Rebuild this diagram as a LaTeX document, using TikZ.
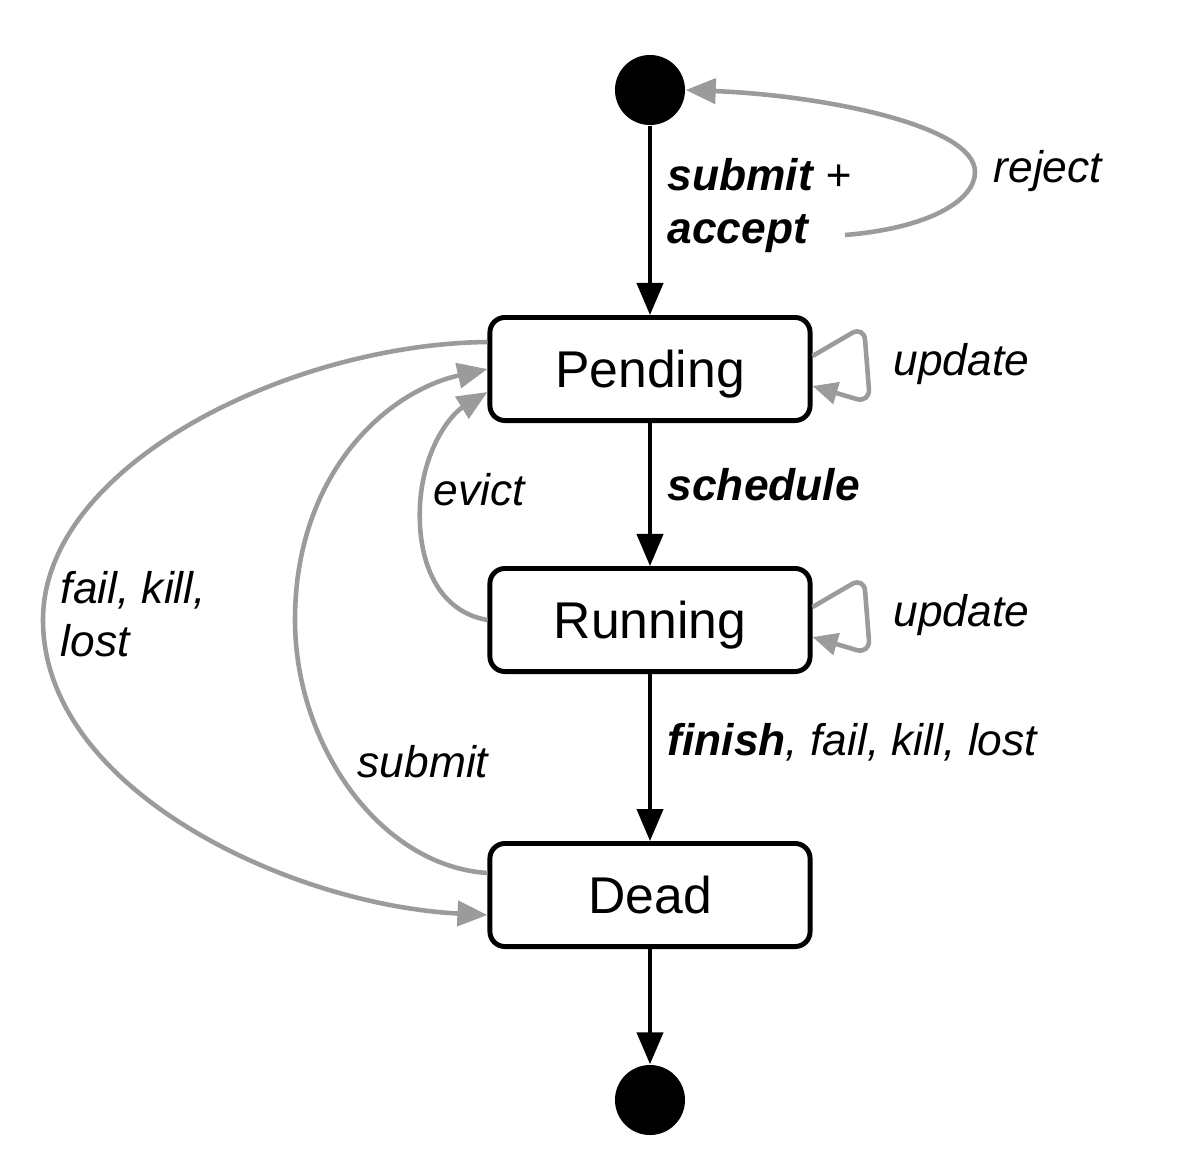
\documentclass[tikz,border=0pt]{standalone}
\usepackage{fontspec}
\setmainfont{Liberation Sans}
\usetikzlibrary{arrows.meta,calc}
\definecolor{edgegray}{HTML}{9B9B9B}
\tikzset{
  statebox/.style={draw=black, line width=1.4pt, rounded corners=0.15cm, fill=white,
    minimum width=3.2cm, minimum height=1.03cm, inner sep=0pt,
    text height=10.5pt, text depth=0pt,
    font=\fontsize{14.7}{17}\selectfont},
  pseudo/.style={circle, fill=black, draw=none, minimum size=0.7cm, inner sep=0pt},
  mainedge/.style={draw=black, line width=1.2pt, -{Triangle[length=0.32cm, width=0.26cm]}},
  grayedge/.style={draw=edgegray, line width=1.3pt, -{Triangle[length=0.3cm, width=0.25cm]}},
  loopedge/.style={draw=edgegray, line width=1.3pt, rounded corners=0.14cm, -{Triangle[length=0.25cm, width=0.22cm]}},
  lbl/.style={inner sep=0pt, font=\fontsize{12.6}{15}\selectfont\itshape},
}
\begin{document}
\begin{tikzpicture}[x=0.01cm, y=-0.01cm]
\useasboundingbox (0,0) rectangle (1184,1166);

\node[pseudo] (start) at (650,90) {};
\node[statebox] (pending) at (650,369) {Pending};
\node[statebox] (running) at (650,620) {Running};
\node[statebox] (dead) at (650,895) {Dead};
\node[pseudo] (end) at (650,1100) {};

% main flow
\draw[mainedge] (start) -- (pending);
\draw[mainedge] (pending) -- (running);
\draw[mainedge] (running) -- (dead);
\draw[mainedge] (dead) -- (end);

% reject
\coordinate (rejstart) at (845,235);
\draw[grayedge] (rejstart) .. controls (930,228) and (975,200) .. (975,172)
   .. controls (975,125) and (820,95) .. (start.east);

% update loops
\draw[loopedge] ($(pending.east)+(0,-13)$) -- (864,326) -- (870,403) -- ($(pending.east)+(0,17)$);
\draw[loopedge] ($(running.east)+(0,-13)$) -- (864,577) -- (870,654) -- ($(running.east)+(0,17)$);

% evict
\draw[grayedge] (running.west) .. controls (440,612) and (417,565) .. (420,505)
   .. controls (423,450) and (450,415) .. ($(pending.west)+(0,23)$);

% submit
\draw[grayedge] ($(dead.west)+(0,-22)$) .. controls (380,866) and (295,745) .. (295,620)
   .. controls (295,475) and (385,392) .. (pending.west);

% fail, kill, lost
\draw[grayedge] ($(pending.west)+(0,-27)$) .. controls (290,344) and (43,465) .. (43,620)
   .. controls (43,790) and (290,905) .. ($(dead.west)+(0,20)$);

% labels
\node[lbl, anchor=north west, align=left] (lsubacc) at (667,158) {\textbf{submit} +\\\textbf{accept}};
\node[lbl, anchor=base west] (lreject) at (993,182) {reject};
\node[lbl, anchor=base west] (lupd1) at (893,375) {update};
\node[lbl, anchor=base west] (lupd2) at (893,626) {update};
\node[lbl, anchor=base west] (lsched) at (667,500) {\textbf{schedule}};
\node[lbl, anchor=base west] (levict) at (433,505) {evict};
\node[lbl, anchor=base west] (lfinish) at (667,755) {\textbf{finish}, fail, kill, lost};
\node[lbl, anchor=north west, align=left] (lfail) at (60,571) {fail, kill,\\lost};
\node[lbl, anchor=base west] (lsubmit) at (357,777) {submit};
\end{tikzpicture}
\end{document}
